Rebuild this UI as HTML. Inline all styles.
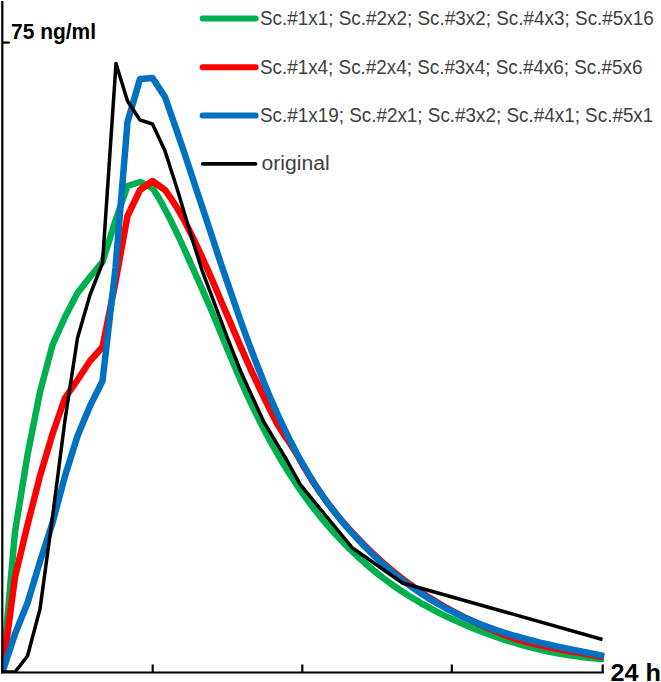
<!DOCTYPE html>
<html><head><meta charset="utf-8"><style>
html,body{margin:0;padding:0;background:#fff;}
svg{display:block;}
.lg{font-family:"Liberation Sans",sans-serif;font-size:19.5px;fill:#404040;}
.ax{font-family:"Liberation Sans",sans-serif;font-weight:bold;fill:#000;}
</style></head><body>
<svg width="661" height="682" viewBox="0 0 661 682">
<defs><clipPath id="pc"><rect x="1.5" y="0" width="660" height="673"/></clipPath></defs>
<rect width="661" height="682" fill="#fff"/>
<g>
<g fill="none" stroke-linejoin="round" clip-path="url(#pc)">
<polyline points="2.5,672.0 15.0,532.0 27.5,455.0 40.0,392.0 52.5,345.0 65.0,317.0 77.5,293.0 90.0,277.0 102.5,262.0 115.0,222.0 127.5,186.0 140.0,182.0 152.5,188.0 158.8,197.9 165.0,209.2 171.2,221.4 177.5,234.4 183.8,248.0 190.0,261.9 196.2,275.8 202.5,289.9 208.8,304.3 215.0,318.9 221.2,333.9 227.5,349.2 233.8,364.3 240.0,379.0 246.2,393.0 252.5,406.4 258.8,419.2 265.0,431.4 271.2,443.0 277.5,454.0 283.8,464.5 290.0,474.5 296.2,484.1 302.5,493.1 308.8,501.8 315.0,510.0 321.2,517.8 327.5,525.2 333.8,532.3 340.0,539.1 346.2,545.5 352.5,551.7 358.8,557.6 365.0,563.2 371.2,568.5 377.5,573.6 383.8,578.5 390.0,583.1 396.2,587.5 402.5,591.8 408.8,595.8 415.0,599.6 421.2,603.3 427.5,606.7 433.8,610.1 440.0,613.3 446.2,616.4 452.5,619.3 458.8,622.1 465.0,624.9 471.2,627.5 477.5,630.0 483.8,632.4 490.0,634.8 496.2,637.0 502.5,639.1 508.8,641.1 515.0,643.0 521.2,644.8 527.5,646.5 533.8,648.1 540.0,649.6 546.2,651.0 552.5,652.3 558.8,653.5 565.0,654.6 571.2,655.5 577.5,656.4 583.8,657.2 590.0,657.9 596.2,658.4 602.5,658.9 604.0,659.0" stroke="#00B050" stroke-width="6.5"/>
<polyline points="2.5,672.0 15.0,577.0 27.5,525.0 40.0,476.0 52.5,434.0 65.0,398.0 77.5,380.0 90.0,361.0 102.5,347.0 115.3,283.0 127.5,216.0 140.0,190.0 152.5,181.0 165.0,190.0 171.2,198.7 177.5,208.6 183.8,219.6 190.0,231.7 196.2,244.5 202.5,258.0 208.8,272.1 215.0,286.5 221.2,301.2 227.5,315.9 233.8,330.6 240.0,345.1 246.2,359.3 252.5,373.1 258.8,386.5 265.0,399.5 271.2,412.1 277.5,424.4 283.8,434.3 290.0,443.4 296.2,453.3 302.5,464.5 308.8,475.1 315.0,484.9 321.2,494.1 327.5,502.8 333.8,510.9 340.0,518.5 346.2,525.8 352.5,532.7 358.8,539.3 365.0,545.7 371.2,551.9 377.5,557.8 383.8,563.4 390.0,568.7 396.2,573.8 402.5,578.7 408.8,583.5 415.0,588.0 421.2,592.3 427.5,596.4 433.8,600.3 440.0,604.0 446.2,607.7 452.5,611.1 458.8,614.4 465.0,617.6 471.2,620.5 477.5,623.5 483.8,626.4 490.0,629.1 496.2,631.6 502.5,634.1 508.8,636.4 515.0,638.7 521.2,640.7 527.5,642.3 533.8,643.9 540.0,645.3 546.2,646.7 552.5,648.0 558.8,649.3 565.0,650.5 571.2,651.5 577.5,652.6 583.8,653.6 590.0,654.7 596.2,655.7 602.5,656.7 604.0,657.0" stroke="#FF0000" stroke-width="6.5"/>
<polyline points="2.5,672.0 15.0,634.0 27.5,603.0 40.0,561.6 52.5,523.0 65.0,476.0 77.5,436.0 90.0,406.0 102.5,381.0 115.5,268.0 127.5,122.0 140.0,79.0 152.5,78.0 165.0,97.0 171.2,114.7 177.5,132.9 183.8,151.3 190.0,170.0 196.2,188.9 202.5,207.8 208.8,226.8 215.0,245.7 221.2,264.4 227.5,282.9 233.8,301.1 240.0,319.0 246.2,336.4 252.5,353.2 258.8,369.5 265.0,385.0 271.2,399.9 277.5,414.0 283.8,427.5 290.0,440.3 296.2,452.3 302.5,463.7 308.8,474.4 315.0,484.5 321.2,493.9 327.5,502.7 333.8,511.0 340.0,518.9 346.2,526.3 352.5,533.4 358.8,540.3 365.0,546.8 371.2,553.0 377.5,559.0 383.8,564.7 390.0,570.1 396.2,575.3 402.5,580.2 408.8,584.9 415.0,589.3 421.2,593.6 427.5,597.6 433.8,601.4 440.0,605.0 446.2,608.5 452.5,611.7 458.8,614.8 465.0,617.7 471.2,620.5 477.5,623.1 483.8,625.5 490.0,627.9 496.2,630.1 502.5,632.1 508.8,634.1 515.0,636.0 521.2,637.7 527.5,639.4 533.8,641.0 540.0,642.6 546.2,644.0 552.5,645.4 558.8,646.8 565.0,648.1 571.2,649.4 577.5,650.7 583.8,652.0 590.0,653.2 596.2,654.4 602.5,655.7 604.0,656.0" stroke="#0070C0" stroke-width="6.5"/>
<polyline points="2.5,672.0 15.0,672.0 27.5,656.0 40.0,609.0 52.5,517.0 65.0,420.0 77.5,338.0 90.0,295.0 102.5,263.0 116.0,63.5 127.5,101.0 140.0,120.0 152.5,124.0 165.0,151.0 177.5,190.0 190.0,232.0 202.5,271.7 227.5,338.0 241.0,372.0 263.4,421.1 287.0,460.5 300.0,484.2 321.2,510.0 352.5,548.0 402.5,583.0 602.5,639.5" stroke="#000" stroke-width="3.5"/>
</g>
<g stroke="#000" stroke-width="2.2" fill="none">
<line x1="2.3" y1="1" x2="2.3" y2="673.6"/>
<line x1="1.2" y1="672.5" x2="603.8" y2="672.5"/>
<line x1="2.3" y1="42.6" x2="9.8" y2="42.6"/>
<line x1="152.7" y1="664.5" x2="152.7" y2="672.5"/>
<line x1="302.3" y1="664.5" x2="302.3" y2="672.5"/>
<line x1="451.8" y1="664.5" x2="451.8" y2="672.5"/>
<line x1="602.7" y1="664.5" x2="602.7" y2="672.5"/>
</g>
<text x="11.0" y="38.6" class="ax" font-size="22" textLength="85.0" lengthAdjust="spacingAndGlyphs">75 ng/ml</text>
<text x="610.5" y="681.3" class="ax" font-size="23" textLength="50.5" lengthAdjust="spacingAndGlyphs">24 h</text>
<line x1="202.7" y1="18.6" x2="255.6" y2="18.6" stroke="#00B050" stroke-width="6" stroke-linecap="round"/>
<text x="260" y="25.2" textLength="393.8" lengthAdjust="spacingAndGlyphs" class="lg">Sc.#1x1; Sc.#2x2; Sc.#3x2; Sc.#4x3; Sc.#5x16</text>
<line x1="202.7" y1="67.3" x2="255.6" y2="67.3" stroke="#FF0000" stroke-width="6" stroke-linecap="round"/>
<text x="260" y="73.7" textLength="382.4" lengthAdjust="spacingAndGlyphs" class="lg">Sc.#1x4; Sc.#2x4; Sc.#3x4; Sc.#4x6; Sc.#5x6</text>
<line x1="202.7" y1="115.6" x2="255.6" y2="115.6" stroke="#0070C0" stroke-width="6" stroke-linecap="round"/>
<text x="260" y="122.0" textLength="393.3" lengthAdjust="spacingAndGlyphs" class="lg">Sc.#1x19; Sc.#2x1; Sc.#3x2; Sc.#4x1; Sc.#5x1</text>
<line x1="202.7" y1="163.9" x2="255.6" y2="163.9" stroke="#000000" stroke-width="3.6" stroke-linecap="round"/>
<text x="261.5" y="170.4" textLength="68.1" lengthAdjust="spacingAndGlyphs" class="lg">original</text>
</g>
</svg>
</body></html>
